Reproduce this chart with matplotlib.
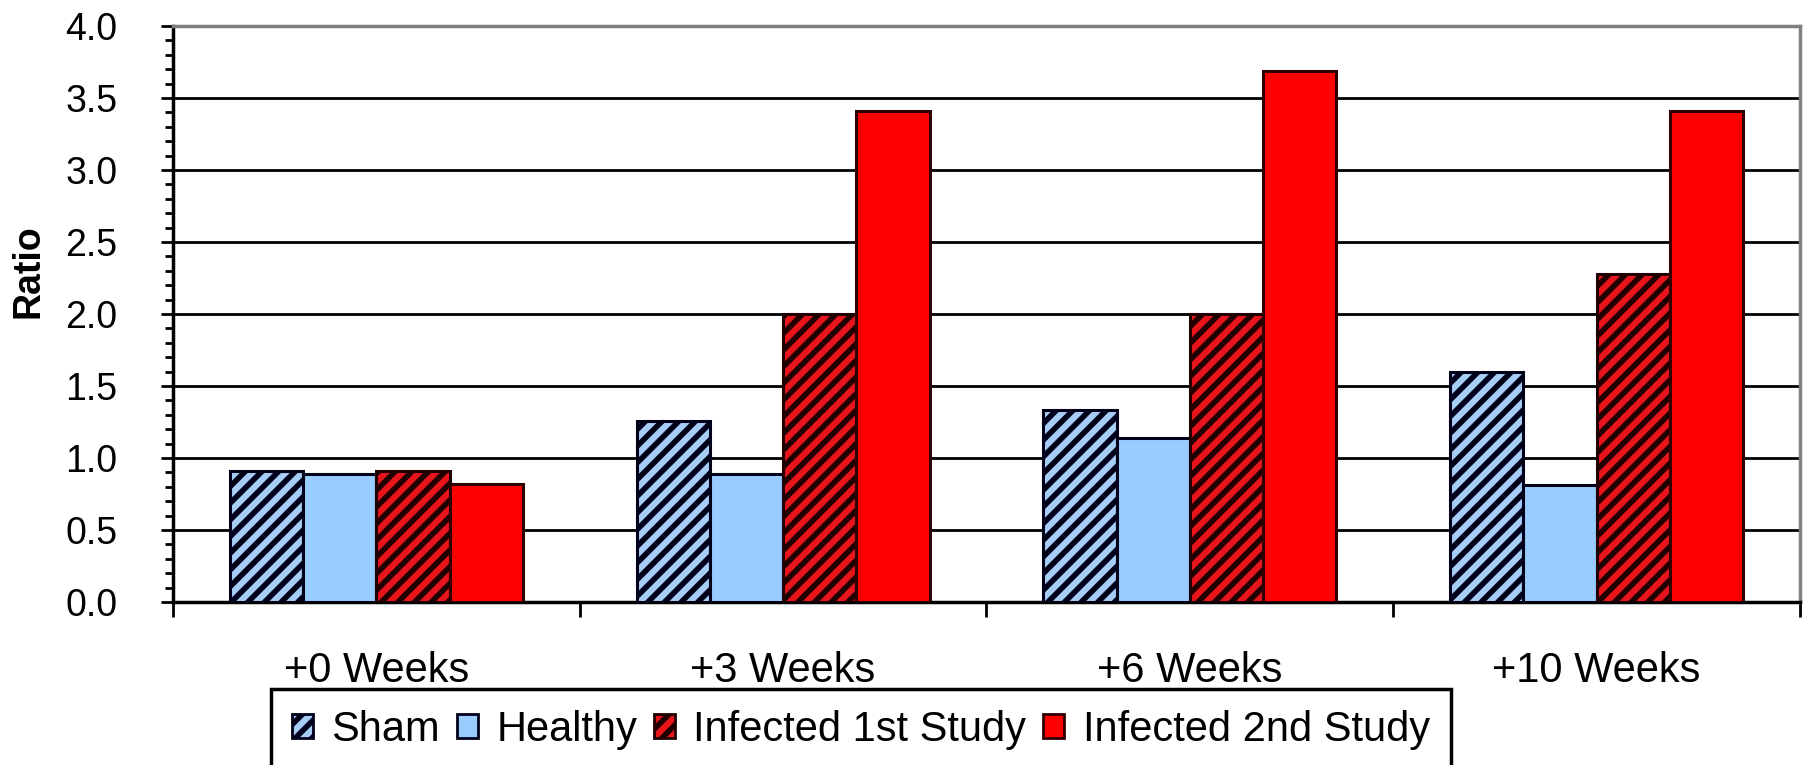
import matplotlib
matplotlib.use("Agg")
import matplotlib.pyplot as plt
from matplotlib.patches import Patch
from matplotlib.ticker import MultipleLocator, FixedLocator, NullFormatter
import numpy as np

categories = ["+0 Weeks", "+3 Weeks", "+6 Weeks", "+10 Weeks"]
series_names = ["Sham", "Healthy", "Infected 1st Study", "Infected 2nd Study"]
sham = [0.91, 1.26, 1.33, 1.60]
healthy = [0.89, 0.89, 1.14, 0.81]
infected_1st = [0.91, 2.00, 2.00, 2.28]
infected_2nd = [0.82, 3.41, 3.69, 3.41]
yticks = [0.0, 0.5, 1.0, 1.5, 2.0, 2.5, 3.0, 3.5, 4.0]

plt.rcParams['font.family'] = ['Liberation Sans', 'DejaVu Sans']
plt.rcParams['hatch.linewidth'] = 4.0

fig = plt.figure(figsize=(18.08, 7.65), dpi=100)
ax = fig.add_axes([173/1808, 1-602/765, (1800-173)/1808, (602-26)/765])

data = [sham, healthy, infected_1st, infected_2nd]
faces = ['#a6cdf5', '#99ccff', '#e8141c', '#ff0000']
edges = ['#000018', '#000018', '#200000', '#300000']
hatches = ['//', None, '//', None]
w = 0.18
x = np.arange(len(categories)) + 0.5
for i, (vals, fc, ec, h) in enumerate(zip(data, faces, edges, hatches)):
    ax.bar(x + (i - 1.5) * w, vals, width=w, color=fc, edgecolor=ec,
           linewidth=2.2, hatch=h, zorder=3)

ax.set_xlim(0, 4)
ax.set_ylim(0, 4)
ax.yaxis.set_major_locator(FixedLocator(yticks))
ax.set_yticklabels([f"{t:.1f}" for t in yticks])
ax.yaxis.set_minor_locator(MultipleLocator(0.1))
ax.grid(axis='y', which='major', color='black', linewidth=2.0, zorder=0)
ax.set_axisbelow(True)

ax.xaxis.set_major_locator(FixedLocator([0, 1, 2, 3, 4]))
ax.xaxis.set_major_formatter(NullFormatter())
ax.xaxis.set_minor_locator(FixedLocator(list(x)))
ax.set_xticklabels(categories, minor=True)
ax.tick_params(axis='x', which='major', length=11, width=2, direction='out', color='black')
ax.tick_params(axis='x', which='minor', length=0, pad=35, labelsize=30)
ax.tick_params(axis='y', which='major', length=9, width=2, direction='out', pad=31, labelsize=27)
ax.tick_params(axis='y', which='minor', length=6, width=2, direction='out')

for s in ['left', 'bottom']:
    ax.spines[s].set_color('black')
    ax.spines[s].set_linewidth(2.5)
for s in ['top', 'right']:
    ax.spines[s].set_color('#808080')
    ax.spines[s].set_linewidth(2.5)

fig.text(0.016, 1-271/765, 'Ratio', rotation=90, fontsize=27, fontweight='bold',
         ha='center', va='center')

handles = [Patch(facecolor=fc, edgecolor=ec, hatch=h, linewidth=2)
           for fc, ec, h in zip(faces, edges, hatches)]
leg = fig.legend(handles, series_names, ncol=4, loc='upper left',
                 bbox_to_anchor=(271/1808, 1-689/765), fontsize=30,
                 frameon=True, fancybox=False, framealpha=1, edgecolor='black',
                 handlelength=0.5, handleheight=0.5, handletextpad=0.45,
                 columnspacing=0.4, borderpad=0.5, borderaxespad=0)
leg.get_frame().set_linewidth(2.5)

fig.savefig('out.png', dpi=100)
